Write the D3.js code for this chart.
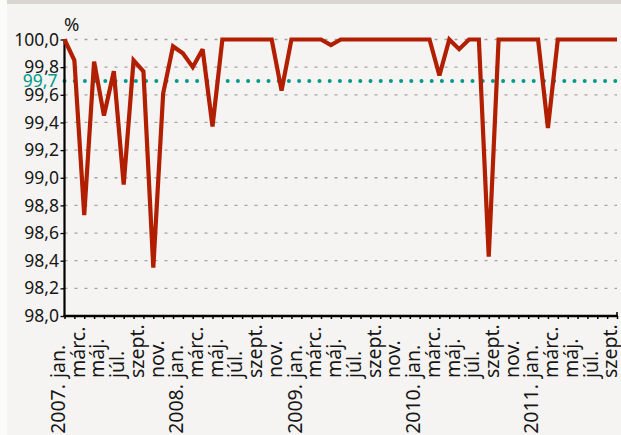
<!DOCTYPE html>
<html><head><meta charset="utf-8">
<script src="https://cdn.jsdelivr.net/npm/d3@7"></script>
<style>
html,body{margin:0;padding:0;background:#fbfbfa;}
svg{display:block;}
text{font-family:"Noto Sans","Open Sans",sans-serif;}
</style></head>
<body>
<svg id="c" width="621" height="435"></svg>
<script>
const months = ["jan.","febr.","márc.","ápr.","máj.","jún.","júl.","aug.","szept.","okt.","nov.","dec."];
const years = ["2007.","2008.","2009.","2010.","2011."];
const values = [
  100.0, 99.85, 98.73, 99.84, 99.45, 99.77, 98.95, 99.85, 99.77, 98.35, 99.61, 99.95,
  99.90, 99.80, 99.93, 99.37, 100.0, 100.0, 100.0, 100.0, 100.0, 100.0, 99.63, 100.0,
  100.0, 100.0, 100.0, 99.96, 100.0, 100.0, 100.0, 100.0, 100.0, 100.0, 100.0, 100.0,
  100.0, 100.0, 99.74, 100.0, 99.93, 100.0, 100.0, 98.43, 100.0, 100.0, 100.0, 100.0,
  100.0, 99.36, 100.0, 100.0, 100.0, 100.0, 100.0, 100.0, 100.0
];
const yTicks = [98.0, 98.2, 98.4, 98.6, 98.8, 99.0, 99.2, 99.4, 99.6, 99.8, 100.0];
const target = 99.7;
const targetLabel = "99,7";
const unitLabel = "%";

(function(){
const svg = d3.select("#c");
svg.append("rect").attr("x",7).attr("y",0).attr("width",614).attr("height",435).attr("fill","#f5f4f2");
svg.append("rect").attr("x",7).attr("y",0).attr("width",614).attr("height",4).attr("fill","#d9d5d1");

const mL = 64.5, mR = 617, mT = 39.5, mB = 316;
const idx = d3.range(values.length);
const x = d3.scaleLinear().domain([0, values.length-1]).range([mL, mR]);
const y = d3.scaleLinear().domain([98, 100]).range([mB, mT]);

svg.append("g").selectAll("line").data(yTicks.filter(d=>d>98)).join("line")
  .attr("x1",mL).attr("x2",mR).attr("y1",d=>y(d)).attr("y2",d=>y(d))
  .attr("stroke","#a3a19e").attr("stroke-width",1.3).attr("stroke-dasharray","3,7");

const fmt = d => d.toFixed(1).replace(".", ",");
const ya = svg.append("g").attr("transform",`translate(${mL},0)`)
  .call(d3.axisLeft(y).tickValues(yTicks).tickFormat(fmt).tickSize(4).tickPadding(1.5));
ya.select(".domain").remove();
ya.selectAll(".tick line").attr("stroke","#000").attr("stroke-width",1.3);
ya.selectAll(".tick text").attr("font-size",17.5).attr("fill","#161616").attr("font-family","Noto Sans");

svg.append("line").attr("x1",mL).attr("x2",mR).attr("y1",y(target)).attr("y2",y(target))
  .attr("stroke","#00998a").attr("stroke-width",4).attr("stroke-linecap","round")
  .attr("stroke-dasharray","0,10.2");
svg.append("text").attr("x",mL-7).attr("y",y(target)).attr("dy","0.35em")
  .attr("text-anchor","end").attr("font-size",17.5).attr("fill","#00998a").text(targetLabel);

svg.append("text").attr("x",64).attr("y",31).attr("text-anchor","start")
  .attr("font-size",18.5).attr("fill","#161616").text(unitLabel);

const xa = svg.append("g").attr("transform",`translate(0,${mB})`)
  .call(d3.axisBottom(x).tickValues(idx).tickFormat("").tickSize(3));
xa.select(".domain").remove();
xa.selectAll(".tick line").attr("stroke","#000").attr("stroke-width",1.5);

const labelIdx = idx.filter(i => i % 2 === 0);
const lg = svg.append("g");
lg.selectAll("text.m").data(labelIdx).join("text").attr("class","m")
  .attr("transform", i => `translate(${x(i)},378) rotate(-90)`)
  .attr("text-anchor","start").attr("dy","0.02em")
  .attr("font-size",19.5).attr("fill","#161616").text(i => months[i%12]);
lg.selectAll("text.y").data(labelIdx.filter(i => i%12===0)).join("text").attr("class","y")
  .attr("transform", i => `translate(${x(i)},384) rotate(-90)`)
  .attr("text-anchor","end").attr("dy","0.02em")
  .attr("font-size",19.5).attr("fill","#161616").text(i => years[i/12]);

svg.append("line").attr("x1",mL).attr("x2",mL).attr("y1",mT).attr("y2",mB+1)
  .attr("stroke","#000").attr("stroke-width",2.2);
svg.append("line").attr("x1",mL-1).attr("x2",mR+1).attr("y1",mB).attr("y2",mB)
  .attr("stroke","#000").attr("stroke-width",2.5);
svg.append("line").attr("x1",mR).attr("x2",mR).attr("y1",mB-4).attr("y2",mB)
  .attr("stroke","#000").attr("stroke-width",1.5);

const line = d3.line().x((d,i)=>x(i)).y(d=>y(d));
svg.append("path").datum(values).attr("d",line).attr("fill","none")
  .attr("stroke","#b21e00").attr("stroke-width",4.2).attr("stroke-linejoin","miter").attr("stroke-miterlimit",3);
})();
</script>
</body></html>
